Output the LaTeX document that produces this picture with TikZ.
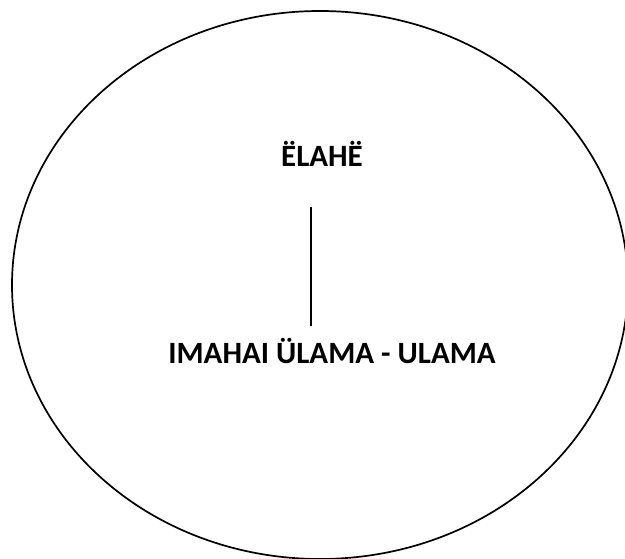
\documentclass[tikz,border=0pt]{standalone}
\usepackage{fontspec}
\setmainfont{Carlito}
\begin{document}
\begin{tikzpicture}[x=1pt,y=-1pt,
  lbl/.style={font=\fontsize{31}{36}\selectfont\bfseries, inner sep=0pt, anchor=base},
  stroke/.style={line width=1.7pt, black}]
\useasboundingbox (0,0) rectangle (625,559);
\begin{scope}
\clip (0,0) rectangle (625,559);
\draw[stroke] (320,285) ellipse [x radius=308, y radius=274];
\end{scope}
\node[lbl] (top) at (322,167) {ËLAHË};
\node[lbl] (bot) at (332,363) {IMAHAI ÜLAMA - ULAMA};
\coordinate (ltop) at (311,207);
\coordinate (lbot) at (311,326);
\draw[line width=1.2pt] (ltop) -- (lbot);
\end{tikzpicture}
\end{document}
